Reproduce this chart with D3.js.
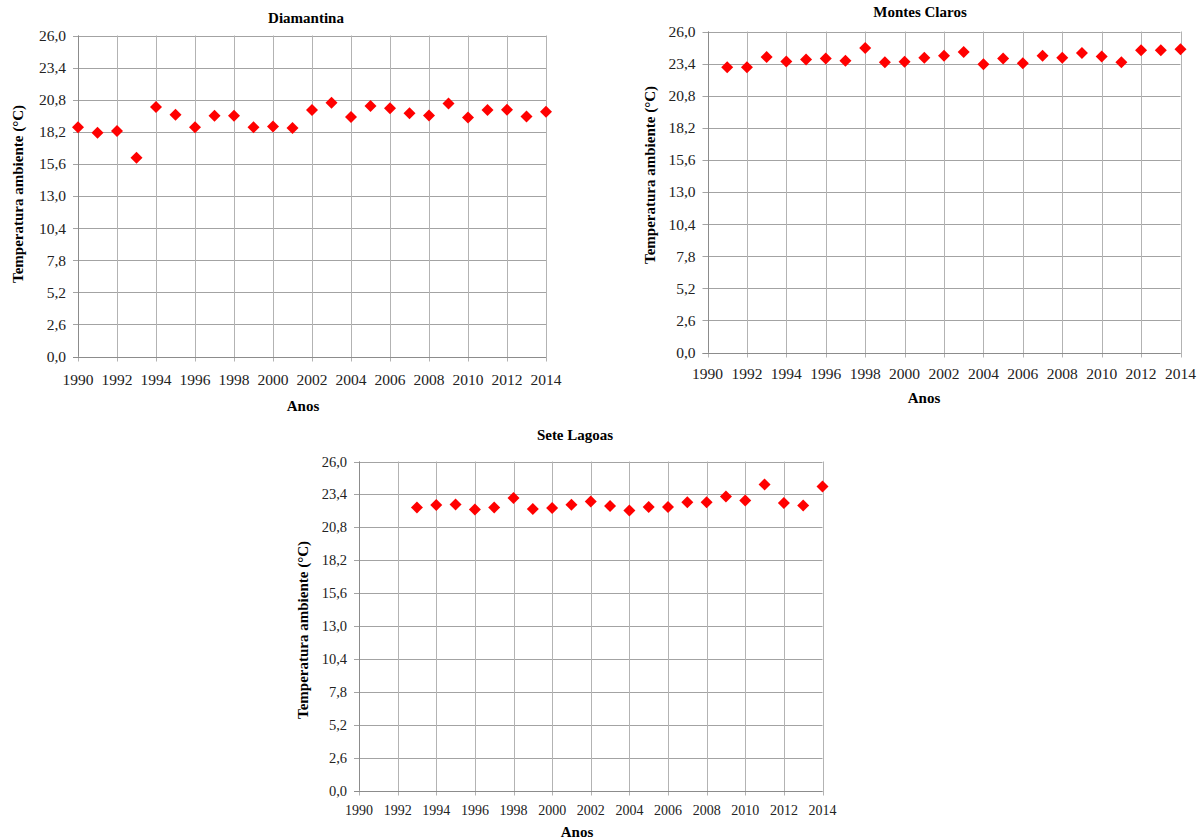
<!DOCTYPE html>
<meta charset="utf-8">
<title>Temperatura ambiente</title>
<body>
<script src="https://cdn.jsdelivr.net/npm/d3@7/dist/d3.min.js"></script>
<style>
html, body {
    margin: 0;
    background: #fff;
}
svg {
    display: block;
}
</style>
<svg id="chart"></svg>
<script>
var width = 1198,
    height = 840,
    serif = "Liberation Serif, DejaVu Serif, Times New Roman, Times, serif";

// eixo x / eixo y
var yearTicks = [1990, 1992, 1994, 1996, 1998, 2000, 2002, 2004, 2006, 2008, 2010, 2012, 2014];
var tempTicks = [0, 2.6, 5.2, 7.8, 10.4, 13.0, 15.6, 18.2, 20.8, 23.4, 26.0];

// Diamantina
var diamantinaYears = [1990, 1991, 1992, 1993, 1994, 1995, 1996, 1997, 1998, 1999, 2000, 2001, 2002,
                       2003, 2004, 2005, 2006, 2007, 2008, 2009, 2010, 2011, 2012, 2013, 2014];
var diamantinaTemp = [18.56, 18.13, 18.27, 16.09, 20.21, 19.59, 18.56, 19.51, 19.51, 18.56, 18.62, 18.51, 19.97,
                      20.56, 19.40, 20.29, 20.10, 19.70, 19.53, 20.50, 19.35, 19.97, 19.99, 19.43, 19.83];

// Montes Claros
var montesClarosYears = [1991, 1992, 1993, 1994, 1995, 1996, 1997, 1998, 1999, 2000, 2001, 2002,
                         2003, 2004, 2005, 2006, 2007, 2008, 2009, 2010, 2011, 2012, 2013, 2014];
var montesClarosTemp = [23.10, 23.10, 23.93, 23.58, 23.74, 23.82, 23.63, 24.66, 23.50, 23.55, 23.88, 24.04,
                        24.33, 23.34, 23.82, 23.42, 24.04, 23.88, 24.25, 23.98, 23.50, 24.49, 24.49, 24.57];

// Sete Lagoas
var seteLagoasYears = [1993, 1994, 1995, 1996, 1997, 1998, 1999, 2000, 2001, 2002,
                       2003, 2004, 2005, 2006, 2007, 2008, 2009, 2010, 2011, 2012, 2013, 2014];
var seteLagoasTemp = [22.37, 22.56, 22.61, 22.21, 22.37, 23.12, 22.24, 22.32, 22.59, 22.83,
                      22.48, 22.13, 22.40, 22.40, 22.77, 22.77, 23.23, 22.91, 24.19, 22.72, 22.53, 24.03];

var panels = [
    { title: "Diamantina", years: diamantinaYears, temps: diamantinaTemp,
      left: 78, right: 546, top: 35.5, bottom: 356.5,
      titleX: 306, titleY: 18, tickY: 380, xTitleX: 303, xTitleY: 406,
      yTitleX: 18, yTitleY: 194, fs: 15.5, xfs: 15.5 },
    { title: "Montes Claros", years: montesClarosYears, temps: montesClarosTemp,
      left: 707.5, right: 1180.5, top: 31.5, bottom: 352.5,
      titleX: 920, titleY: 12, tickY: 374, xTitleX: 924, xTitleY: 398,
      yTitleX: 650, yTitleY: 175, fs: 15.5, xfs: 15.5 },
    { title: "Sete Lagoas", years: seteLagoasYears, temps: seteLagoasTemp,
      left: 359, right: 822.5, top: 461.5, bottom: 790.5,
      titleX: 575, titleY: 435, tickY: 810, xTitleX: 577, xTitleY: 832,
      yTitleX: 303, yTitleY: 630, fs: 14.5, xfs: 14 }
];

var comma = function(v) { return d3.format(".1f")(v).replace(".", ","); };

var svg = d3.select("#chart")
    .attr("width", width)
    .attr("height", height)
    .attr("font-family", serif);

var diamond = d3.symbol().type(d3.symbolSquare).size(72);

panels.forEach(function(p) {
    var x = d3.scaleLinear().domain([1990, 2014]).range([p.left, p.right]),
        y = d3.scaleLinear().domain([0, 26]).range([p.bottom, p.top]);

    var g = svg.append("g");

    // grelha
    g.append("g")
        .selectAll("line")
        .data(tempTicks)
        .enter().append("line")
        .attr("x1", p.left - 5)
        .attr("x2", p.right)
        .attr("y1", function(d) { return Math.round(y(d)) + 0.5; })
        .attr("y2", function(d) { return Math.round(y(d)) + 0.5; })
        .attr("stroke", "#a3a3a3");

    g.append("g")
        .selectAll("line")
        .data(yearTicks)
        .enter().append("line")
        .attr("x1", function(d) { return Math.round(x(d)) + 0.5; })
        .attr("x2", function(d) { return Math.round(x(d)) + 0.5; })
        .attr("y1", p.top)
        .attr("y2", p.bottom + 5)
        .attr("stroke", "#b3b3b3");

    // eixos
    g.append("line")
        .attr("x1", Math.round(p.left) + 0.5).attr("x2", Math.round(p.left) + 0.5)
        .attr("y1", p.top).attr("y2", p.bottom)
        .attr("stroke", "#8c8c8c");
    g.append("line")
        .attr("x1", p.left - 5).attr("x2", p.right)
        .attr("y1", Math.round(p.bottom) + 0.5).attr("y2", Math.round(p.bottom) + 0.5)
        .attr("stroke", "#8c8c8c");

    // rótulos
    g.append("g")
        .selectAll("text")
        .data(tempTicks)
        .enter().append("text")
        .attr("x", p.left - 12)
        .attr("y", function(d) { return y(d); })
        .attr("dy", "0.35em")
        .attr("text-anchor", "end")
        .attr("font-family", serif)
        .attr("font-size", p.fs)
        .attr("fill", "#222")
        .text(comma);

    g.append("g")
        .selectAll("text")
        .data(yearTicks)
        .enter().append("text")
        .attr("x", function(d) { return x(d); })
        .attr("y", p.tickY)
        .attr("dy", "0.35em")
        .attr("text-anchor", "middle")
        .attr("font-family", serif)
        .attr("font-size", p.xfs)
        .attr("fill", "#222")
        .text(function(d) { return d; });

    g.append("text")
        .attr("x", p.titleX)
        .attr("y", p.titleY)
        .attr("dy", "0.35em")
        .attr("text-anchor", "middle")
        .attr("font-family", serif)
        .attr("font-size", 15)
        .attr("font-weight", "bold")
        .text(p.title);

    g.append("text")
        .attr("x", p.xTitleX)
        .attr("y", p.xTitleY)
        .attr("dy", "0.35em")
        .attr("text-anchor", "middle")
        .attr("font-family", serif)
        .attr("font-size", 15)
        .attr("font-weight", "bold")
        .text("Anos");

    g.append("text")
        .attr("transform", "translate(" + p.yTitleX + "," + p.yTitleY + ")rotate(-90)")
        .attr("dy", "0.35em")
        .attr("text-anchor", "middle")
        .attr("font-family", serif)
        .attr("font-size", 15)
        .attr("font-weight", "bold")
        .text("Temperatura ambiente (°C)");

    // pontos
    g.append("g")
        .selectAll("path")
        .data(p.years)
        .enter().append("path")
        .attr("d", diamond)
        .attr("transform", function(d, i) {
            return "translate(" + x(d) + "," + y(p.temps[i]) + ")rotate(45)";
        })
        .attr("fill", "#ff0000");
});
</script>
